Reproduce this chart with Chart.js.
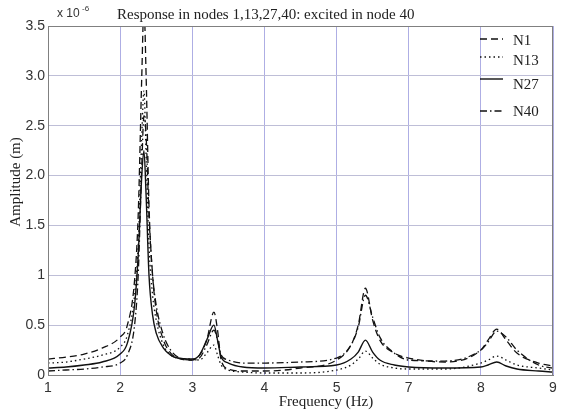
<!DOCTYPE html>
<html>
<head>
<meta charset="utf-8">
<title>Response in nodes 1,13,27,40</title>
<script src="https://cdn.jsdelivr.net/npm/chart.js@4.4.1/dist/chart.umd.min.js"></script>
<style>
    html, body { margin: 0; padding: 0; background: #fff; }
    #wrap { width: 562px; height: 417px; }
</style>
</head>
<body>
<div id="wrap"><canvas id="response-chart" width="562" height="417"></canvas></div>
<script>
(function () {
    "use strict";

    // Frequency positions (gridline units) and amplitudes (x 10^-6 m)
    var freqs = [1, 1.25, 1.5, 1.75, 2, 2.1, 2.2, 2.25, 2.3, 2.33, 2.36, 2.4, 2.45, 2.5, 2.6, 2.7, 2.8,
                 3, 3.1, 3.2, 3.3, 3.35, 3.4, 3.5, 3.7, 4, 4.5, 5, 5.2, 5.3, 5.4, 5.5, 5.6, 5.8,
                 6, 6.5, 7, 7.1, 7.22, 7.35, 7.5, 7.8, 8];
    var n1  = [0.16, 0.18, 0.21, 0.27, 0.38, 0.5, 0.95, 1.6, 3.0, 3.7, 3.0, 1.7, 1.0, 0.65, 0.35, 0.22, 0.17,
               0.15, 0.2, 0.35, 0.63, 0.45, 0.15, 0.06, 0.04, 0.04, 0.07, 0.15, 0.3, 0.5, 0.87, 0.55, 0.35, 0.22,
               0.17, 0.13, 0.25, 0.35, 0.46, 0.35, 0.22, 0.12, 0.09];
    var n13 = [0.12, 0.13, 0.16, 0.2, 0.28, 0.4, 0.8, 1.3, 2.4, 2.85, 2.2, 1.3, 0.8, 0.55, 0.3, 0.2, 0.17,
               0.16, 0.15, 0.22, 0.3, 0.2, 0.1, 0.05, 0.03, 0.02, 0.02, 0.05, 0.1, 0.16, 0.24, 0.17, 0.11, 0.07,
               0.06, 0.06, 0.12, 0.15, 0.19, 0.15, 0.1, 0.07, 0.05];
    var n27 = [0.07, 0.08, 0.1, 0.13, 0.21, 0.32, 0.7, 1.2, 2.0, 2.25, 1.8, 1.0, 0.6, 0.42, 0.27, 0.2, 0.17,
               0.16, 0.2, 0.35, 0.5, 0.35, 0.18, 0.12, 0.08, 0.07, 0.08, 0.1, 0.16, 0.23, 0.35, 0.23, 0.15, 0.1,
               0.08, 0.07, 0.08, 0.1, 0.13, 0.09, 0.06, 0.04, 0.03];
    var n40 = [0.04, 0.05, 0.06, 0.08, 0.12, 0.2, 0.5, 1.0, 2.1, 2.6, 2.4, 1.6, 1.0, 0.7, 0.4, 0.25, 0.18,
               0.15, 0.17, 0.3, 0.45, 0.35, 0.2, 0.15, 0.12, 0.12, 0.13, 0.17, 0.3, 0.48, 0.8, 0.58, 0.38, 0.22,
               0.15, 0.14, 0.25, 0.33, 0.44, 0.38, 0.25, 0.1, 0.07];

    // Tick labels as printed on the figure
    var xTickLabels = ["1", "2", "3", "4", "5", "7", "8", "9"];
    var yTickLabels = ["0", "0.5", "1", "1.5", "2.0", "2.5", "3.0", "3.5"];

    var seriesNames = ["N1", "N13", "N27", "N40"];

    var serif = "'Liberation Serif', 'Times New Roman', serif";
    var sans = "'Liberation Sans', Arial, sans-serif";

    var toPoints = function (values) {
        return values.map(function (v, i) { return {x: freqs[i], y: v}; });
    };

    // Title, axis titles, exponent, frame and legend drawn on top
    var decorations = {
        id: "decorations",
        afterDraw: function (chart) {
            var c = chart.ctx;
            var area = chart.chartArea;
            c.save();

            // plot frame
            c.strokeStyle = "#808080";
            c.lineWidth = 1;
            c.strokeRect(area.left + 0.5, area.top + 0.5, area.right - area.left - 1, area.bottom - area.top);

            // title
            c.fillStyle = "#222";
            c.font = "15px " + serif;
            c.textBaseline = "middle";
            c.textAlign = "left";
            c.fillText("Response in nodes 1,13,27,40: excited in node 40", 117, 15);

            // axis titles
            c.textAlign = "center";
            c.fillText("Frequency (Hz)", 326, 402);
            c.save();
            c.translate(16, 182);
            c.rotate(-Math.PI / 2);
            c.fillText("Amplitude (m)", 0, 0);
            c.restore();

            // exponent
            c.textAlign = "left";
            c.font = "12px " + sans;
            c.fillStyle = "#333";
            c.fillText("x 10", 57, 14);
            c.font = "8px " + sans;
            c.fillText("-6", 82, 9);

            // legend
            var rows = [{line: 39, text: 41}, {line: 57, text: 61}, {line: 79, text: 85}, {line: 111, text: 112}];
            chart.data.datasets.forEach(function (ds, i) {
                c.beginPath();
                c.setLineDash(ds.borderDash || []);
                c.lineWidth = ds.borderWidth;
                c.strokeStyle = ds.borderColor;
                c.moveTo(480, rows[i].line);
                c.lineTo(503, rows[i].line);
                c.stroke();
                c.setLineDash([]);
                c.fillStyle = "#222";
                c.font = "15px " + serif;
                c.fillText(ds.label, 513, rows[i].text);
            });
            c.restore();
        }
    };

    var ctx = document.getElementById("response-chart").getContext("2d");
    var myChart = new Chart(ctx, {
        type: "line",
        data: {
            datasets: [{
                    label: seriesNames[0],
                    data: toPoints(n1),
                    borderColor: "#111",
                    borderWidth: 1.3,
                    borderDash: [7, 4]
                },
                {
                    label: seriesNames[1],
                    data: toPoints(n13),
                    borderColor: "#111",
                    borderWidth: 1.3,
                    borderDash: [1.5, 3]
                },
                {
                    label: seriesNames[2],
                    data: toPoints(n27),
                    borderColor: "#111",
                    borderWidth: 1.4,
                    borderDash: []
                },
                {
                    label: seriesNames[3],
                    data: toPoints(n40),
                    borderColor: "#111",
                    borderWidth: 1.3,
                    borderDash: [7, 3, 1.5, 3]
                }
            ]
        },
        options: {
            responsive: false,
            animation: false,
            layout: {
                padding: {top: 26, right: 9, left: 0, bottom: 0}
            },
            elements: {
                point: {radius: 0},
                line: {cubicInterpolationMode: "monotone", fill: false}
            },
            plugins: {
                legend: {display: false},
                title: {display: false},
                tooltip: {enabled: false}
            },
            scales: {
                x: {
                    type: "linear",
                    min: 1,
                    max: 8,
                    afterFit: function (scale) { scale.height = 42; },
                    ticks: {
                        stepSize: 1,
                        padding: 5,
                        color: "#333",
                        font: {family: sans, size: 14},
                        callback: function (value) { return xTickLabels[value - 1]; }
                    },
                    grid: {color: "rgba(165, 165, 225, 0.9)", drawTicks: false},
                    border: {color: "#808080"}
                },
                y: {
                    min: 0,
                    max: 3.5,
                    afterFit: function (scale) { scale.width = 48; },
                    ticks: {
                        stepSize: 0.5,
                        padding: 3,
                        color: "#333",
                        font: {family: sans, size: 14},
                        callback: function (value) { return yTickLabels[Math.round(value * 2)]; }
                    },
                    grid: {color: "rgba(190, 190, 215, 1)", drawTicks: false},
                    border: {color: "#808080"}
                }
            }
        },
        plugins: [decorations]
    });

})();
</script>
</body>
</html>
